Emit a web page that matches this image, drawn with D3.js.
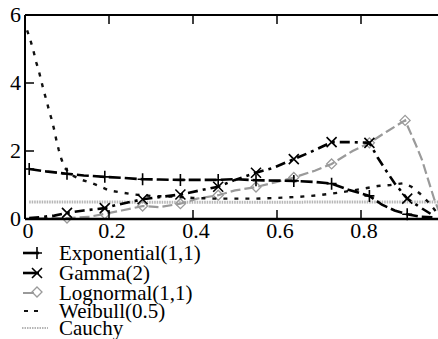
<!DOCTYPE html>
<html>
<head>
<meta charset="utf-8">
<script src="https://cdn.jsdelivr.net/npm/d3@7"></script>
</head>
<body style="margin:0;background:#fff">
<svg id="s" width="438" height="339"></svg>
<script>
// Density estimates on [0,1] for five source distributions
const xExp = [0.01,0.05,0.1,0.14,0.19,0.23,0.28,0.32,0.37,0.42,0.46,0.5,0.55,0.6,0.64,0.69,0.73,0.77,0.82,0.85,0.88,0.91,0.94,0.97];
const yExp = [1.47,1.4,1.33,1.28,1.24,1.21,1.17,1.16,1.15,1.15,1.15,1.17,1.14,1.13,1.12,1.09,1.04,0.86,0.68,0.42,0.25,0.14,0.07,0.05];

const xGam = [0.01,0.04,0.07,0.1,0.14,0.19,0.22,0.28,0.33,0.37,0.42,0.46,0.5,0.55,0.59,0.64,0.68,0.73,0.78,0.82,0.84,0.86,0.88,0.91,0.94,0.97];
const yGam = [0.03,0.06,0.1,0.18,0.25,0.32,0.42,0.58,0.66,0.72,0.85,0.95,1.15,1.36,1.5,1.76,1.97,2.26,2.26,2.24,1.8,1.42,1.05,0.6,0.35,0.12];

const xLog = [0.03,0.1,0.15,0.19,0.23,0.28,0.32,0.37,0.41,0.46,0.5,0.55,0.6,0.64,0.69,0.73,0.78,0.82,0.86,0.905,0.93,0.945,0.96,0.975,0.99];
const yLog = [0.02,0.03,0.06,0.15,0.25,0.38,0.35,0.45,0.6,0.7,0.84,0.94,1.09,1.22,1.42,1.62,2.0,2.24,2.56,2.9,2.2,1.75,1.15,0.56,0.1];

const xWei = [0.005,0.012,0.02,0.027,0.033,0.038,0.045,0.052,0.058,0.063,0.07,0.075,0.08,0.087,0.095,0.11,0.135,0.16,0.18,0.2,0.23,0.26,0.3,0.35,0.4,0.45,0.5,0.55,0.6,0.65,0.7,0.75,0.8,0.84,0.87,0.9,0.92,0.94,0.96,0.98];
const yWei = [5.55,5.3,4.95,4.6,4.35,4.1,3.75,3.45,3.15,2.95,2.6,2.3,2.05,1.75,1.5,1.3,1.15,1.05,0.95,0.84,0.78,0.72,0.68,0.66,0.62,0.6,0.6,0.6,0.62,0.65,0.7,0.78,0.88,0.97,1.0,1.05,0.95,0.75,0.5,0.2];

const xCau = [0.01,0.1,0.2,0.3,0.4,0.5,0.6,0.7,0.8,0.9,1.0];
const yCau = [0.5,0.5,0.5,0.49,0.49,0.49,0.49,0.5,0.5,0.5,0.5];

// x positions that carry a plotted symbol
const markExp = [0.01,0.1,0.19,0.28,0.37,0.46,0.55,0.64,0.73,0.82,0.91];
const markGam = [0.1,0.19,0.28,0.37,0.46,0.55,0.64,0.73,0.82,0.91];
const markLog = [0.1,0.19,0.28,0.37,0.46,0.55,0.64,0.73,0.82,0.905];

const legendLabels = ["Exponential(1,1)", "Gamma(2)", "Lognormal(1,1)", "Weibull(0.5)", "Cauchy"];
const xTicks = [0, 0.2, 0.4, 0.6, 0.8];
const yTicks = [0, 2, 4, 6];

const FONT = '"Liberation Serif", monospace';

const svg = d3.select("#s");
const x = d3.scaleLinear().domain([0, 1]).range([25, 445]);
const y = d3.scaleLinear().domain([0, 6]).range([219, 15]);

const series = [
  { name: legendLabels[0], xs: xExp, ys: yExp, marks: markExp, color: "#000", width: 2.6, dash: "12,4", sym: "plus" },
  { name: legendLabels[1], xs: xGam, ys: yGam, marks: markGam, color: "#000", width: 2.6, dash: "10,5,3,5", sym: "cross" },
  { name: legendLabels[2], xs: xLog, ys: yLog, marks: markLog, color: "#9a9a9a", width: 2.2, dash: "10,4", sym: "diamond" },
  { name: legendLabels[3], xs: xWei, ys: yWei, marks: [], color: "#111", width: 2.4, dash: "4,7", sym: null },
  { name: legendLabels[4], xs: xCau, ys: yCau, marks: [], color: "#b5b5b5", width: 3, dash: "1.5,1", sym: null }
];

const line = d3.line().x(d => x(d[0])).y(d => y(d[1]));

const plot = svg.append("g");

function drawSymbol(g, sym, cx, cy, color) {
  if (sym === "plus") {
    g.append("path").attr("d", `M${cx-5},${cy}H${cx+5}M${cx},${cy-6}V${cy+6}`)
      .attr("stroke", color).attr("stroke-width", 1.6).attr("fill", "none");
  } else if (sym === "cross") {
    g.append("path").attr("d", `M${cx-5},${cy-5}L${cx+5},${cy+5}M${cx-5},${cy+5}L${cx+5},${cy-5}`)
      .attr("stroke", color).attr("stroke-width", 1.6).attr("fill", "none");
  } else if (sym === "diamond") {
    g.append("path").attr("d", `M${cx},${cy-5}L${cx+5},${cy}L${cx},${cy+5}L${cx-5},${cy}Z`)
      .attr("stroke", color).attr("stroke-width", 1.3).attr("fill", "none");
  }
}

// draw in back-to-front order: Cauchy first
[4, 2, 3, 1, 0].forEach(i => {
  const s = series[i];
  const pts = s.xs.map((v, k) => [v, s.ys[k]]);
  plot.append("path")
    .attr("d", line(pts))
    .attr("fill", "none")
    .attr("stroke", s.color)
    .attr("stroke-width", s.width)
    .attr("stroke-dasharray", s.dash);
  if (s.sym) {
    pts.filter(p => s.marks.includes(p[0]))
      .forEach(p => drawSymbol(plot, s.sym, x(p[0]), y(p[1]), s.color));
  }
});

// frame and inward ticks
const frame = svg.append("g").attr("stroke", "#000").attr("fill", "none");
frame.append("line").attr("x1", x(0)).attr("x2", 438).attr("y1", y(6)).attr("y2", y(6)).attr("stroke-width", 1.8);
frame.append("line").attr("x1", x(0)).attr("x2", 438).attr("y1", y(0)).attr("y2", y(0)).attr("stroke-width", 2.4);
frame.append("line").attr("x1", x(0)).attr("x2", x(0)).attr("y1", y(6)).attr("y2", y(0)).attr("stroke-width", 2);

xTicks.filter(t => t > 0).forEach(t => {
  frame.append("line").attr("x1", x(t)).attr("x2", x(t)).attr("y1", y(6)).attr("y2", y(6) + 9).attr("stroke-width", 1.5);
  frame.append("line").attr("x1", x(t)).attr("x2", x(t)).attr("y1", y(0)).attr("y2", y(0) - 9).attr("stroke-width", 1.5);
});
yTicks.filter(t => t > 0 && t < 6).forEach(t => {
  frame.append("line").attr("x1", x(0)).attr("x2", x(0) + 9).attr("y1", y(t)).attr("y2", y(t)).attr("stroke-width", 1.5);
});

// tick labels
svg.append("g").selectAll("text").data(xTicks).join("text")
  .attr("x", d => x(d) + 3).attr("y", 238)
  .attr("text-anchor", "middle")
  .attr("font-size", 22)
  .style("font-family", FONT)
  .text(d => String(d));

svg.append("g").selectAll("text").data(yTicks).join("text")
  .attr("x", 21).attr("y", d => y(d) + 7)
  .attr("text-anchor", "end")
  .attr("font-size", 22)
  .style("font-family", FONT)
  .text(d => String(d));

// legend
const legendY = [253, 273, 293, 311, 328];
const leg = svg.append("g");
series.forEach((s, i) => {
  const ly = legendY[i];
  if (s.sym === "plus" || s.sym === "cross") {
    leg.append("line").attr("x1", 23).attr("x2", 39).attr("y1", ly).attr("y2", ly)
      .attr("stroke", s.color).attr("stroke-width", 2.6);
    drawSymbol(leg, s.sym, 37, ly, s.color);
  } else if (s.sym === "diamond") {
    leg.append("line").attr("x1", 23).attr("x2", 34).attr("y1", ly).attr("y2", ly)
      .attr("stroke", s.color).attr("stroke-width", 2);
    drawSymbol(leg, s.sym, 37, ly - 1, s.color);
  } else if (i === 3) {
    leg.append("line").attr("x1", 24).attr("x2", 38).attr("y1", ly).attr("y2", ly)
      .attr("stroke", s.color).attr("stroke-width", 2).attr("stroke-dasharray", "4,6");
  } else {
    leg.append("line").attr("x1", 22).attr("x2", 48).attr("y1", ly).attr("y2", ly)
      .attr("stroke", s.color).attr("stroke-width", 2).attr("stroke-dasharray", "1.5,1");
  }
  leg.append("text").attr("x", 59).attr("y", ly + 7)
    .attr("font-size", 21)
    .style("font-family", FONT)
    .text(s.name);
});
</script>
</body>
</html>
